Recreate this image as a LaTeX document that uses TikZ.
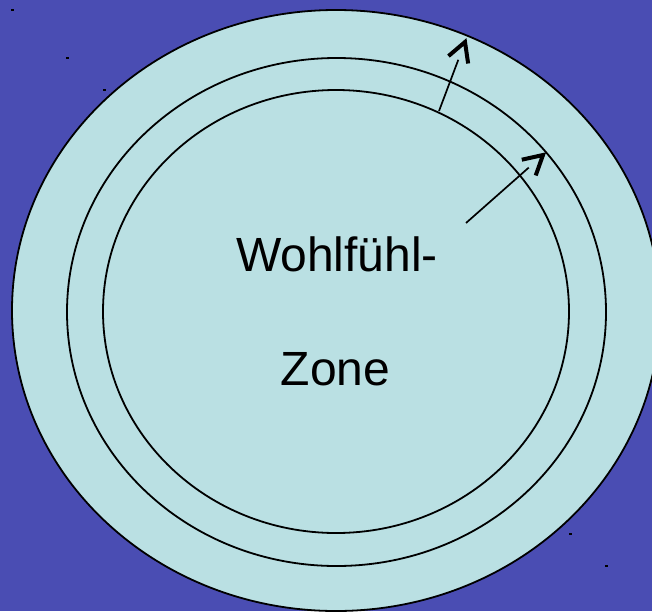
\documentclass[tikz,border=0pt]{standalone}
\usepackage{fontspec}
\setmainfont{Liberation Sans}
\usetikzlibrary{calc}
\definecolor{bgblue}{HTML}{4A4DB3}
\definecolor{zone}{HTML}{BAE0E3}
\tikzset{
  ring/.style={fill=zone, draw=black, line width=1.8pt},
  lbl/.style={font=\fontsize{48}{56}\selectfont, anchor=base, inner sep=0pt},
  shaft/.style={line width=1.7pt},
  barb/.style={line width=4pt, line join=miter, line cap=butt},
  handle/.style={fill=black, draw=none}
}
\begin{document}
\begin{tikzpicture}[x=1pt,y=-1pt]
\useasboundingbox (0,0) rectangle (652,611);
\fill[bgblue] (0,0) rectangle (652,611);
\begin{scope}
\clip (0,0) rectangle (652,611);
\draw[ring] (336,310.5) ellipse [x radius=324, y radius=300.5];
\end{scope}
\draw[ring] (336.5,312) ellipse [x radius=269.5, y radius=254];
\draw[ring] (336,311.5) ellipse [x radius=233, y radius=221.5];
% small marker dots
\fill[handle] (11,9.3) rectangle (13.5,10.8);
\fill[handle] (66,57.3) rectangle (68.5,58.8);
\fill[handle] (103,89.3) rectangle (105.5,90.8);
\fill[handle] (569,533.3) rectangle (571.5,534.8);
\fill[handle] (605,565.3) rectangle (607.5,566.8);
% text
\node[lbl] (w) at (337,271) {Wohlfühl-};
\node[lbl] (z) at (335.5,385) {Zone};
% arrows
\coordinate (a1s) at (439,111);
\coordinate (a1e) at (465,42);
\coordinate (a1b) at ($(a1e)!19pt!(a1s)$);
\draw[shaft] (a1s) -- (a1b);
\draw[barb] ($(a1b)!10.5pt!90:(a1e)$) -- (a1e) -- ($(a1b)!10.5pt!-90:(a1e)$);
\coordinate (a2s) at (466,223);
\coordinate (a2e) at (543,155);
\coordinate (a2b) at ($(a2e)!19pt!(a2s)$);
\draw[shaft] (a2s) -- (a2b);
\draw[barb] ($(a2b)!10.5pt!90:(a2e)$) -- (a2e) -- ($(a2b)!10.5pt!-90:(a2e)$);
\end{tikzpicture}
\end{document}
